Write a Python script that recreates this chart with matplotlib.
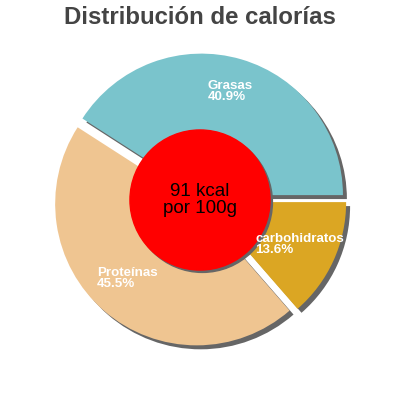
import matplotlib
matplotlib.use("Agg")
import matplotlib.pyplot as plt

plt.rcParams["font.family"] = ["Liberation Sans", "DejaVu Sans"]

# datos del gráfico
labels = ["Grasas", "Proteínas", "carbohidratos"]
values = [40.9, 45.5, 13.6]
colors = ["#7ac4cc", "#efc591", "#dba623"]
kcal_text = "91 kcal\npor 100g"
title = "Distribución de calorías"

# posición de las etiquetas (unidades del radio)
label_pos = [(0.055, 0.85), (-0.73, -0.47), (0.39, -0.23)]

R_PX = 141.5
fig = plt.figure(figsize=(4, 4), dpi=100)
ax = fig.add_axes([0, 0, 1, 1])
lim = 200 / R_PX

explode = [0.036] * len(values)
shadow_off = (0.028, -0.028)

# sombras
ax.pie(values, explode=explode, colors=["#666666"] * 3, startangle=0,
       counterclock=True, center=shadow_off, radius=1.0, frame=True,
       wedgeprops=dict(linewidth=0))
# porciones
ax.pie(values, explode=explode, colors=colors, startangle=0,
       counterclock=True, center=(0, 0), radius=1.0, frame=True,
       wedgeprops=dict(linewidth=0))

ax.set_xlim(-lim, lim)
ax.set_ylim(-lim, lim)
ax.set_aspect("equal")
ax.axis("off")

# círculo central
ax.add_patch(plt.Circle((shadow_off[0] * 0.6, shadow_off[1] * 0.6), 0.495,
                        color="#666666", zorder=3))
ax.add_patch(plt.Circle((0, 0), 0.495, color="#ff0000", zorder=4))
ax.text(0, 0, kcal_text, ha="center", va="center", fontsize=13.5,
        color="black", zorder=5, linespacing=1.0)

for lab, val, (x, y) in zip(labels, values, label_pos):
    ax.text(x, y, f"{lab}\n{val}%", ha="left", va="top", fontsize=9.6,
            fontweight="bold", color="white", zorder=5, linespacing=0.9)

fig.text(0.5, 1 - 17 / 400, title, ha="center", va="center",
         fontsize=17.3, fontweight="bold", color="#444444")

fig.savefig("out.png", dpi=100)
